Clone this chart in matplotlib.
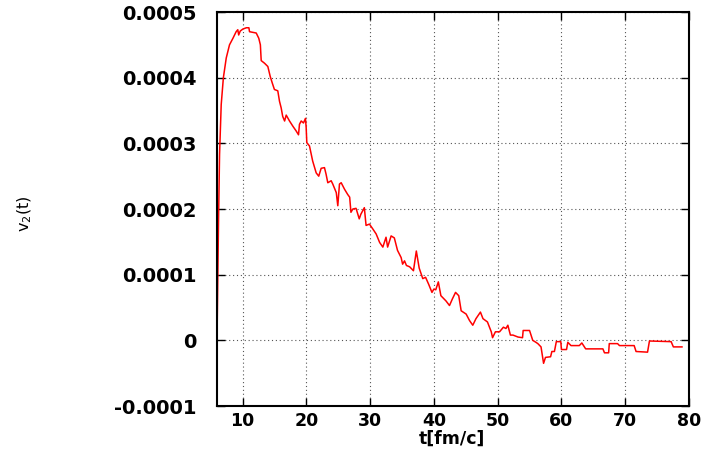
import numpy as np
import matplotlib.pyplot as plt

# v2(t) (values in units of 1e-4)
t = [6.0, 6.1, 6.24, 6.4, 6.66, 7.0, 7.45, 7.96, 8.5, 9.0, 9.26, 9.4, 9.64,
     10.05, 10.6, 11.0, 11.1, 12.15, 12.55, 12.8, 12.93, 13.45, 13.97, 14.34,
     14.66, 15.0, 15.53, 15.8, 16.06, 16.3, 16.6, 16.85, 17.37, 17.9, 18.4,
     18.78, 18.93, 19.2, 19.56, 19.87, 19.98, 20.08, 20.5, 21.0, 21.55, 21.95,
     22.33, 22.85, 23.1, 23.37, 23.9, 24.15, 24.7, 24.94, 25.2, 25.47, 26.0,
     26.5, 26.8, 27.0, 27.3, 27.8, 28.3, 28.55, 29.1, 29.37, 29.9, 30.4,
     30.95, 31.5, 32.0, 32.5, 32.75, 33.3, 33.8, 34.3, 34.87, 35.1, 35.4,
     35.7, 36.2, 36.8, 37.25, 37.7, 38.26, 38.7, 39.2, 39.7, 40.0, 40.3,
     40.7, 41.1, 41.9, 42.45, 42.9, 43.4, 43.9, 44.28, 45.06, 45.6, 46.1,
     46.6, 47.3, 47.7, 48.4, 49.0, 49.2, 49.65, 50.3, 50.9, 51.3, 51.6, 52.0,
     52.4, 53.2, 53.9, 54.0, 55.0, 55.5, 56.0, 56.3, 56.8, 57.2, 57.5, 58.3,
     58.5, 58.9, 59.2, 59.9, 60.0, 60.8, 61.0, 61.5, 62.8, 63.2, 63.8, 66.5,
     66.75, 67.4, 67.5, 68.8, 69.1, 71.4, 71.7, 73.5, 73.8, 77.2, 77.55, 78.9]
v2 = [0.0, 0.81, 1.82, 2.83, 3.59, 4.0, 4.3, 4.5, 4.6, 4.7, 4.73, 4.65, 4.71,
      4.74, 4.76, 4.76, 4.70, 4.68, 4.60, 4.50, 4.26, 4.22, 4.17, 4.02,
      3.92, 3.82, 3.80, 3.64, 3.54, 3.41, 3.34, 3.43, 3.34, 3.26, 3.19,
      3.13, 3.29, 3.34, 3.31, 3.38, 3.24, 3.01, 2.96, 2.73, 2.55, 2.50,
      2.62, 2.63, 2.53, 2.40, 2.43, 2.38, 2.25, 2.05, 2.38, 2.40, 2.30,
      2.22, 2.18, 1.95, 2.00, 2.01, 1.85, 1.92, 2.02, 1.75, 1.77, 1.70,
      1.62, 1.49, 1.42, 1.57, 1.42, 1.59, 1.56, 1.37, 1.26, 1.16, 1.21,
      1.14, 1.12, 1.06, 1.36, 1.10, 0.94, 0.96, 0.85, 0.73, 0.78, 0.77,
      0.89, 0.68, 0.60, 0.53, 0.63, 0.73, 0.68, 0.45, 0.40, 0.30, 0.23,
      0.33, 0.43, 0.33, 0.28, 0.13, 0.04, 0.13, 0.13, 0.20, 0.18, 0.23, 0.08,
      0.08, 0.05, 0.04, 0.15, 0.15, 0.0, -0.03, -0.05, -0.10, -0.35, -0.26, -0.25,
      -0.17, -0.17, -0.02, -0.02, -0.14, -0.14, -0.03, -0.08, -0.08, -0.04, -0.13, -0.13,
      -0.19, -0.19, -0.05, -0.05, -0.08, -0.08, -0.17, -0.18, -0.01, -0.02, -0.10, -0.10]

xticks = [10, 20, 30, 40, 50, 60, 70, 80]
yticks = [-0.0001, 0, 0.0001, 0.0002, 0.0003, 0.0004, 0.0005]
ytick_labels = ["-0.0001", "0", "0.0001", "0.0002", "0.0003", "0.0004", "0.0005"]

fig = plt.figure(figsize=(7.06, 4.55), dpi=100)
ax = fig.add_axes([217/706, 1 - 406/455, (689 - 217)/706, (406 - 12)/455])

ax.plot(t, np.array(v2) * 1e-4, color="red", lw=1.1)

ax.set_xlim(6, 80)
ax.set_ylim(-0.0001, 0.0005)
ax.set_xticks(xticks)
ax.set_yticks(yticks)
ax.set_yticklabels(ytick_labels)

ax.grid(True, color="#555555", linestyle=(0, (1, 2.5)), lw=0.8)
ax.tick_params(direction="in", length=6, width=1, top=True, right=True)
ax.tick_params(axis="y", pad=15, labelsize=14)
ax.tick_params(axis="x", pad=4, labelsize=12.5)
for lab in ax.get_xticklabels() + ax.get_yticklabels():
    lab.set_fontweight("bold")
for s in ax.spines.values():
    s.set_linewidth(1.5)

fig.text(452/706, 1 - 439/455, "t[fm/c]", fontsize=12.5, fontweight="bold",
         ha="center", va="center")
fig.text(25/706, 1 - 214/455, "v$_2$(t)", rotation=90, fontsize=11.5,
         ha="center", va="center")

fig.savefig("out.png", dpi=100)
